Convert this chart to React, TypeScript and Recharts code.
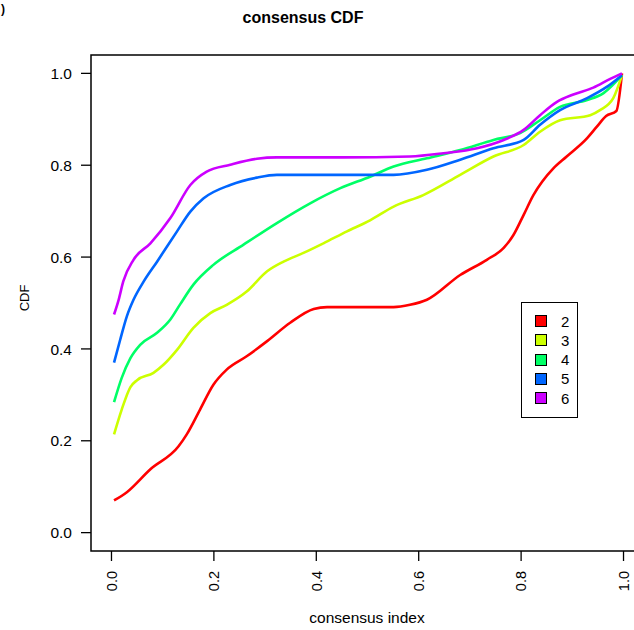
import { LineChart, Line, XAxis, YAxis, ReferenceArea } from 'recharts';

const axisTicks = [0, 0.2, 0.4, 0.6, 0.8, 1.0];
const clusterNames = ['2', '3', '4', '5', '6'];
const clusterColors = ['#FF0000', '#CCFF00', '#00FF66', '#0066FF', '#CC00FF'];

const k2X = [0.005, 0.03, 0.076, 0.131, 0.147, 0.173, 0.199, 0.225, 0.264, 0.304, 0.349, 0.395, 0.421, 0.505, 0.551, 0.583, 0.616, 0.681, 0.733, 0.766, 0.785, 0.805, 0.824, 0.841, 0.863, 0.889, 0.929, 0.948, 0.966, 0.986, 0.997];
const k2Y = [0.07, 0.088, 0.138, 0.188, 0.214, 0.268, 0.322, 0.355, 0.384, 0.417, 0.457, 0.487, 0.491, 0.491, 0.491, 0.496, 0.507, 0.561, 0.594, 0.62, 0.648, 0.692, 0.735, 0.764, 0.793, 0.819, 0.859, 0.884, 0.907, 0.918, 1.0];

const k3X = [0.005, 0.02, 0.037, 0.05, 0.082, 0.102, 0.128, 0.16, 0.193, 0.225, 0.264, 0.304, 0.336, 0.375, 0.414, 0.46, 0.505, 0.551, 0.609, 0.681, 0.746, 0.805, 0.837, 0.876, 0.935, 0.954, 0.98, 0.997];
const k3Y = [0.214, 0.268, 0.317, 0.332, 0.348, 0.366, 0.398, 0.446, 0.478, 0.496, 0.525, 0.569, 0.59, 0.609, 0.63, 0.656, 0.68, 0.71, 0.735, 0.779, 0.819, 0.844, 0.873, 0.898, 0.909, 0.92, 0.946, 0.996];

const k4X = [0.005, 0.02, 0.037, 0.056, 0.089, 0.115, 0.134, 0.16, 0.199, 0.258, 0.323, 0.388, 0.447, 0.505, 0.551, 0.616, 0.681, 0.746, 0.798, 0.837, 0.876, 0.929, 0.961, 0.997];
const k4Y = [0.284, 0.337, 0.38, 0.409, 0.435, 0.464, 0.497, 0.54, 0.583, 0.627, 0.674, 0.717, 0.75, 0.775, 0.797, 0.815, 0.833, 0.855, 0.87, 0.898, 0.927, 0.942, 0.957, 0.996];

const k5X = [0.005, 0.017, 0.03, 0.043, 0.063, 0.089, 0.128, 0.154, 0.18, 0.232, 0.284, 0.323, 0.45, 0.551, 0.616, 0.681, 0.746, 0.805, 0.837, 0.876, 0.929, 0.968, 0.997];
const k5Y = [0.37, 0.42, 0.471, 0.507, 0.547, 0.59, 0.656, 0.699, 0.728, 0.757, 0.773, 0.779, 0.779, 0.779, 0.79, 0.812, 0.837, 0.855, 0.888, 0.92, 0.946, 0.971, 0.996];

const k6X = [0.005, 0.014, 0.023, 0.043, 0.076, 0.115, 0.154, 0.186, 0.232, 0.284, 0.323, 0.45, 0.583, 0.648, 0.714, 0.766, 0.805, 0.837, 0.87, 0.902, 0.941, 0.974, 0.997];
const k6Y = [0.475, 0.507, 0.547, 0.594, 0.63, 0.685, 0.757, 0.786, 0.801, 0.814, 0.817, 0.817, 0.819, 0.826, 0.837, 0.855, 0.877, 0.909, 0.938, 0.954, 0.969, 0.988, 1.0];

const seriesX = [k2X, k3X, k4X, k5X, k6X];
const seriesY = [k2Y, k3Y, k4Y, k5Y, k6Y];

const FONT = '"Liberation Sans", Arial, sans-serif';

const toPoints = (xs: number[], ys: number[]) => xs.map((x, i) => ({ x, y: ys[i] }));

const YTick = ({ x, y, payload }: any) => (
  <text x={x} y={y} dy="0.36em" textAnchor="end" fontSize={15.5} fontFamily={FONT} fill="#000">
    {payload.value.toFixed(1)}
  </text>
);

const XTick = ({ x, y, payload }: any) => (
  <text
    x={x}
    y={y}
    dy="0.36em"
    textAnchor="end"
    fontSize={14.5}
    fontFamily={FONT}
    fill="#000"
    transform={`rotate(-90, ${x}, ${y})`}
  >
    {payload.value.toFixed(1)}
  </text>
);

export default function App() {
  return (
    <div style={{ width: 634, height: 630, overflow: 'hidden', position: 'relative', background: '#fff' }}>
      <style>{'html, body { margin: 0; padding: 0; }'}</style>
      <LineChart width={660} height={630} margin={{ top: 55, right: 16, bottom: 0, left: 0 }}>
        <XAxis
          type="number"
          dataKey="x"
          domain={[-0.04, 1.04]}
          ticks={axisTicks}
          allowDataOverflow
          height={79}
          axisLine={false}
          tickSize={10}
          tickMargin={10}
          tickLine={{ stroke: '#000', strokeWidth: 1.3 }}
          tick={<XTick />}
        />
        <YAxis
          type="number"
          dataKey="y"
          domain={[-0.04, 1.04]}
          ticks={axisTicks}
          allowDataOverflow
          width={91}
          axisLine={false}
          tickSize={10}
          tickMargin={9}
          tickLine={{ stroke: '#000', strokeWidth: 1.3 }}
          tick={<YTick />}
        />
        {clusterNames.map((name, i) => (
          <Line
            key={name}
            data={toPoints(seriesX[i], seriesY[i])}
            dataKey="y"
            name={name}
            type="monotone"
            stroke={clusterColors[i]}
            strokeWidth={2.6}
            dot={false}
            isAnimationActive={false}
          />
        ))}
        <ReferenceArea x1={-0.04} x2={1.04} y1={-0.04} y2={1.04} fill="none" stroke="#000" strokeWidth={1.5} />
      </LineChart>

      <svg width={634} height={630} style={{ position: 'absolute', left: 0, top: 0, pointerEvents: 'none' }}>
        <text x={1} y={13} fontSize={12} fontWeight="bold" fontFamily={FONT} fill="#000">)</text>
        <text x={303} y={22.5} textAnchor="middle" fontSize={16} fontWeight="bold" fontFamily={FONT} fill="#000">
          consensus CDF
        </text>
        <text x={367} y={623} textAnchor="middle" fontSize={15.5} fontFamily={FONT} fill="#000">
          consensus index
        </text>
        <text x={29} y={298} textAnchor="middle" fontSize={13} fontFamily={FONT} fill="#000" transform="rotate(-90, 29, 298)">
          CDF
        </text>
      </svg>

      <div
        style={{
          position: 'absolute',
          left: 521,
          top: 302,
          width: 57,
          height: 116,
          boxSizing: 'border-box',
          border: '1.5px solid #000',
          background: '#fff',
          fontFamily: FONT,
          fontSize: 15,
        }}
      >
        {clusterNames.map((name, i) => (
          <div
            key={name}
            style={{ position: 'absolute', left: 0, top: 19.7 + i * 19.2 - 9.5 - 1.5, height: 19, display: 'flex', alignItems: 'center' }}
          >
            <span
              style={{
                display: 'inline-block',
                marginLeft: 13,
                width: 12,
                height: 12,
                boxSizing: 'border-box',
                border: '1.5px solid #000',
                background: clusterColors[i],
              }}
            />
            <span style={{ marginLeft: 14, lineHeight: '19px' }}>{name}</span>
          </div>
        ))}
      </div>
    </div>
  );
}
